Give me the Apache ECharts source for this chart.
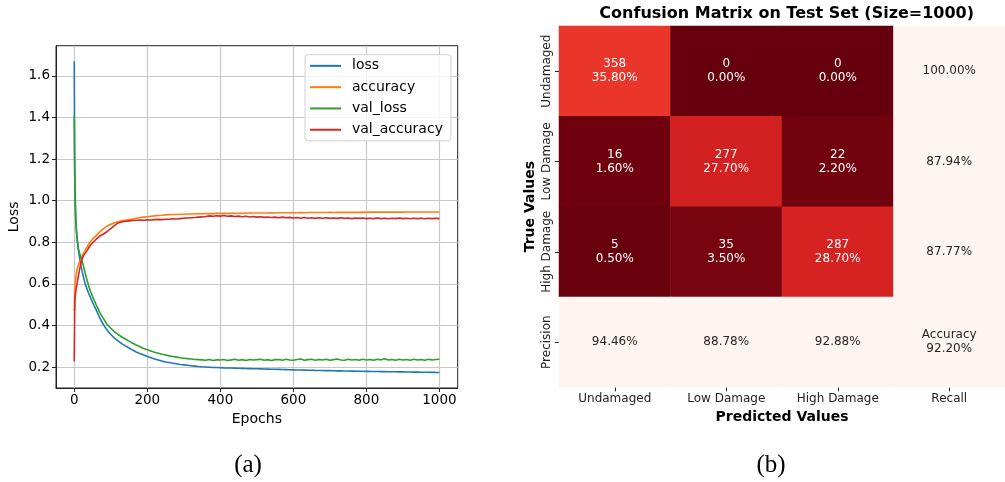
<!DOCTYPE html>
<html>
<head>
<meta charset="utf-8">
<script src="https://cdn.jsdelivr.net/npm/echarts@6/dist/echarts.min.js"></script>
<style>
  html, body { margin: 0; padding: 0; background: #ffffff; }
  #chart { width: 1005px; height: 482px; }
</style>
</head>
<body>
<div id="chart"></div>
<script>
// ---- (a) training history ----
const epochs = [
  0, 1, 2, 3, 4, 5, 6, 8, 10, 12, 15, 18, 21, 25, 30, 35, 40, 45, 50,
  60, 70, 80, 90, 100, 110, 120, 130, 140, 150,
  160, 170, 180, 190, 200, 210, 220, 230, 240, 250,
  260, 270, 280, 290, 300, 310, 320, 330, 340, 350,
  360, 370, 380, 390, 400, 410, 420, 430, 440, 450,
  460, 470, 480, 490, 500, 510, 520, 530, 540, 550,
  560, 570, 580, 590, 600, 610, 620, 630, 640, 650,
  660, 670, 680, 690, 700, 710, 720, 730, 740, 750,
  760, 770, 780, 790, 800, 810, 820, 830, 840, 850,
  860, 870, 880, 890, 900, 910, 920, 930, 940, 950,
  960, 970, 980, 990, 1000
];

const loss = [
  1.67, 1.22, 1.07, 0.99, 0.93, 0.89, 0.86, 0.815, 0.78, 0.755, 0.72, 0.69, 0.665, 0.635, 0.60, 0.575, 0.553, 0.532, 0.512,
  0.475, 0.436, 0.404, 0.378, 0.357, 0.340, 0.326, 0.313, 0.302, 0.292,
  0.282, 0.273, 0.265, 0.258, 0.251, 0.245, 0.239, 0.234, 0.229, 0.225,
  0.222, 0.219, 0.216, 0.213, 0.211, 0.209, 0.207, 0.205, 0.203, 0.2015,
  0.2005, 0.1995, 0.1985, 0.198, 0.1972, 0.1965, 0.196, 0.1955, 0.195, 0.1945,
  0.194, 0.1935, 0.193, 0.1925, 0.192, 0.1915, 0.191, 0.1905, 0.190, 0.1895,
  0.189, 0.1885, 0.188, 0.1875, 0.187, 0.1865, 0.186, 0.1858, 0.1852, 0.1848,
  0.1843, 0.184, 0.1836, 0.1832, 0.183, 0.1826, 0.1822, 0.182, 0.1816, 0.1812,
  0.181, 0.1806, 0.1803, 0.180, 0.1797, 0.1794, 0.1792, 0.1788, 0.1786, 0.1783,
  0.178, 0.1778, 0.1775, 0.1772, 0.177, 0.1767, 0.1765, 0.1762, 0.176, 0.1757,
  0.1755, 0.1752, 0.175, 0.1747, 0.1745
];

const accuracy = [
  0.47, 0.55, 0.585, 0.61, 0.628, 0.642, 0.655, 0.672, 0.685, 0.695, 0.71, 0.722, 0.733, 0.745, 0.762, 0.777, 0.792, 0.805, 0.815,
  0.832, 0.850, 0.866, 0.878, 0.887, 0.894, 0.899, 0.903, 0.906, 0.909,
  0.912, 0.916, 0.919, 0.921, 0.923, 0.925, 0.927, 0.929, 0.930, 0.932,
  0.933, 0.934, 0.934, 0.935, 0.935, 0.936, 0.936, 0.937, 0.937, 0.937,
  0.938, 0.938, 0.938, 0.939, 0.939, 0.939, 0.939, 0.940, 0.940, 0.940,
  0.940, 0.940, 0.941, 0.941, 0.941, 0.941, 0.941, 0.941, 0.942, 0.941,
  0.942, 0.942, 0.942, 0.942, 0.942, 0.942, 0.943, 0.942, 0.943, 0.943,
  0.943, 0.943, 0.943, 0.943, 0.944, 0.943, 0.944, 0.944, 0.944, 0.944,
  0.944, 0.944, 0.944, 0.945, 0.944, 0.945, 0.945, 0.945, 0.945, 0.945,
  0.945, 0.945, 0.945, 0.946, 0.945, 0.946, 0.946, 0.946, 0.946, 0.946,
  0.946, 0.946, 0.946, 0.946, 0.946
];

const valLoss = [
  1.41, 1.15, 1.03, 0.96, 0.91, 0.88, 0.85, 0.815, 0.785, 0.765, 0.745, 0.728, 0.712, 0.688, 0.652, 0.618, 0.588, 0.562, 0.540,
  0.500, 0.462, 0.433, 0.405, 0.387, 0.370, 0.357, 0.345, 0.335, 0.325,
  0.315, 0.306, 0.298, 0.290, 0.284, 0.278, 0.272, 0.267, 0.262, 0.258,
  0.254, 0.251, 0.248, 0.245, 0.243, 0.241, 0.239, 0.237, 0.236, 0.235,
  0.233, 0.237, 0.232, 0.235, 0.234, 0.237, 0.232, 0.235, 0.238, 0.233,
  0.236, 0.232, 0.237, 0.234, 0.236, 0.238, 0.233, 0.236, 0.232, 0.236,
  0.237, 0.233, 0.238, 0.234, 0.233, 0.237, 0.239, 0.233, 0.236, 0.238,
  0.233, 0.237, 0.234, 0.238, 0.233, 0.236, 0.239, 0.234, 0.233, 0.238,
  0.234, 0.237, 0.233, 0.238, 0.234, 0.237, 0.233, 0.238, 0.235, 0.240,
  0.234, 0.237, 0.233, 0.238, 0.234, 0.237, 0.233, 0.238, 0.234, 0.237,
  0.233, 0.238, 0.234, 0.237, 0.238
];

const valAccuracy = [
  0.227, 0.45, 0.53, 0.548, 0.562, 0.573, 0.585, 0.605, 0.625, 0.645, 0.672, 0.698, 0.718, 0.735, 0.748, 0.76, 0.775, 0.788, 0.795,
  0.815, 0.83, 0.84, 0.852, 0.866, 0.88, 0.893, 0.898, 0.901, 0.903,
  0.905, 0.906, 0.907, 0.906, 0.908, 0.907, 0.909, 0.910, 0.909, 0.911,
  0.911, 0.913, 0.912, 0.914, 0.916, 0.917, 0.918, 0.919, 0.921, 0.922,
  0.924, 0.927, 0.925, 0.928, 0.926, 0.929, 0.925, 0.927, 0.924, 0.926,
  0.923, 0.925, 0.922, 0.924, 0.921, 0.923, 0.920, 0.922, 0.919, 0.921,
  0.918, 0.921, 0.918, 0.920, 0.917, 0.919, 0.916, 0.919, 0.916, 0.918,
  0.915, 0.918, 0.916, 0.918, 0.915, 0.917, 0.915, 0.918, 0.915, 0.917,
  0.914, 0.917, 0.915, 0.917, 0.914, 0.916, 0.914, 0.917, 0.914, 0.916,
  0.913, 0.916, 0.914, 0.917, 0.914, 0.916, 0.913, 0.916, 0.914, 0.916,
  0.913, 0.916, 0.914, 0.916, 0.914
];

const historyNames = ['loss', 'accuracy', 'val_loss', 'val_accuracy'];
const historyColors = ['#1f77b4', '#ff7f0e', '#2ca02c', '#d62728'];
const epochTicks = [0, 200, 400, 600, 800, 1000];
const lossTicks = [0.2, 0.4, 0.6, 0.8, 1.0, 1.2, 1.4, 1.6];

// ---- (b) confusion matrix ----
const predictedLabels = ['Undamaged', 'Low Damage', 'High Damage', 'Recall'];
const trueLabels = ['Undamaged', 'Low Damage', 'High Damage', 'Precision'];
const counts = [
  [358, 0, 0],
  [16, 277, 22],
  [5, 35, 287]
];
const testSize = 1000;
const recall = [100.00, 87.94, 87.77];
const precision = [94.46, 88.78, 92.88];
const overallAccuracy = 92.20;

// Reds colormap, reversed (dark = low count)
const redsReversed = ['#67000d', '#a50f15', '#cb181d', '#ef3b2c', '#fb6a4a',
                      '#fc9272', '#fcbba1', '#fee0d2', '#fff5f0'];

const FONT = '"DejaVu Sans", sans-serif';

const historySeries = [loss, accuracy, valLoss, valAccuracy].map((vals, k) => ({
  name: historyNames[k],
  type: 'line',
  xAxisIndex: 0,
  yAxisIndex: 0,
  symbol: 'none',
  animation: false,
  lineStyle: { width: 1.6, color: historyColors[k] },
  itemStyle: { color: historyColors[k] },
  data: epochs.map((e, i) => [e, vals[i]])
}));

const cellData = [];
counts.forEach((row, i) => row.forEach((c, j) => cellData.push([j, i, c])));

const marginData = [];
recall.forEach((r, i) => marginData.push([3, i, r]));
precision.forEach((p, j) => marginData.push([j, 3, p]));
marginData.push([3, 3, overallAccuracy]);

const chart = echarts.init(document.getElementById('chart'), null, { renderer: 'canvas' });

chart.setOption({
  animation: false,
  backgroundColor: '#ffffff',
  textStyle: { fontFamily: FONT },
  grid: [
    { left: 56, top: 45.7, width: 401.7, height: 342.3, show: true,
      borderColor: '#222', borderWidth: 1, backgroundColor: 'transparent' },
    { left: 559, top: 26, width: 446, height: 361.3 }
  ],
  legend: {
    data: historyNames,
    orient: 'vertical',
    left: 305,
    top: 54.7,
    padding: [3, 8, 3, 5],
    itemGap: 5,
    icon: 'rect',
    itemWidth: 31,
    itemHeight: 2,
    backgroundColor: 'rgba(255,255,255,0.8)',
    borderColor: '#d0d0d0',
    borderWidth: 1,
    borderRadius: 3,
    textStyle: { fontFamily: FONT, fontSize: 14, color: '#000', lineHeight: 16.3, padding: [0, 0, 0, 6] }
  },
  xAxis: [
    {
      gridIndex: 0, type: 'value', min: -50, max: 1050,
      axisLine: { show: true, onZero: false, lineStyle: { color: '#222', width: 1 } },
      axisTick: { show: true, length: 4, customValues: epochTicks, lineStyle: { color: '#222' } },
      axisLabel: { customValues: epochTicks, fontFamily: FONT, fontSize: 13.5, color: '#000', margin: 5,
                   formatter: v => String(v) },
      splitLine: { show: true, lineStyle: { color: '#c8c8c8', width: 1.2 } },
      name: 'Epochs', nameLocation: 'middle', nameGap: 24,
      nameTextStyle: { fontFamily: FONT, fontSize: 14, color: '#000' }
    },
    {
      gridIndex: 1, type: 'category', data: predictedLabels, position: 'bottom',
      axisLine: { show: false },
      axisTick: { show: true, alignWithLabel: true, length: 4, lineStyle: { color: '#222' } },
      axisLabel: { interval: 0, fontFamily: FONT, fontSize: 12, color: '#222', margin: 6 },
      splitLine: { show: false },
      name: 'Predicted Values', nameLocation: 'middle', nameGap: 21,
      nameTextStyle: { fontFamily: FONT, fontSize: 14, fontWeight: 'bold', color: '#000' }
    }
  ],
  yAxis: [
    {
      gridIndex: 0, type: 'value', min: 0.0997, max: 1.745,
      axisLine: { show: true, onZero: false, lineStyle: { color: '#222', width: 1 } },
      axisTick: { show: true, length: 4, customValues: lossTicks, lineStyle: { color: '#222' } },
      axisLabel: { customValues: lossTicks, fontFamily: FONT, fontSize: 13.5, color: '#000', margin: 6,
                   formatter: v => v.toFixed(1) },
      splitLine: { show: true, lineStyle: { color: '#c8c8c8', width: 1.2 } },
      name: 'Loss', nameLocation: 'middle', nameGap: 35,
      nameTextStyle: { fontFamily: FONT, fontSize: 14, color: '#000' }
    },
    {
      gridIndex: 1, type: 'category', data: trueLabels, inverse: true,
      axisLine: { show: false },
      axisTick: { show: true, alignWithLabel: true, length: 4, lineStyle: { color: '#222' } },
      axisLabel: { interval: 0, fontFamily: FONT, fontSize: 12, color: '#222', rotate: 90, margin: 6 },
      splitLine: { show: false },
      name: 'True Values', nameLocation: 'middle', nameGap: 22,
      nameTextStyle: { fontFamily: FONT, fontSize: 14, fontWeight: 'bold', color: '#000' }
    }
  ],
  visualMap: {
    type: 'continuous', show: false, seriesIndex: 4,
    min: 0, max: testSize, dimension: 2,
    inRange: { color: redsReversed }
  },
  series: historySeries.concat([
    {
      name: 'counts', type: 'heatmap', xAxisIndex: 1, yAxisIndex: 1,
      data: cellData,
      label: {
        show: true, color: '#ffffff', fontFamily: FONT, fontSize: 12, lineHeight: 14,
        formatter: p => p.value[2] + '\n' + (p.value[2] / testSize * 100).toFixed(2) + '%'
      },
      emphasis: { disabled: true }
    },
    {
      name: 'margins', type: 'heatmap', xAxisIndex: 1, yAxisIndex: 1,
      data: marginData,
      itemStyle: { color: '#fff5f0' },
      label: {
        show: true, color: '#262626', fontFamily: FONT, fontSize: 12, lineHeight: 14,
        formatter: p => (p.value[0] === 3 && p.value[1] === 3 ? 'Accuracy\n' : '') + p.value[2].toFixed(2) + '%'
      },
      emphasis: { disabled: true }
    }
  ]),
  graphic: [
    { type: 'text', x: 786.7, y: 14,
      style: { text: 'Confusion Matrix on Test Set (Size=1000)', font: 'bold 16px "DejaVu Sans"',
               fill: '#000', align: 'center', verticalAlign: 'middle' } },
    { type: 'text', x: 248, y: 465,
      style: { text: '(a)', font: '25px "Liberation Serif"', fill: '#000', align: 'center', verticalAlign: 'middle' } },
    { type: 'text', x: 771, y: 465,
      style: { text: '(b)', font: '25px "Liberation Serif"', fill: '#000', align: 'center', verticalAlign: 'middle' } }
  ]
});
</script>
</body>
</html>
